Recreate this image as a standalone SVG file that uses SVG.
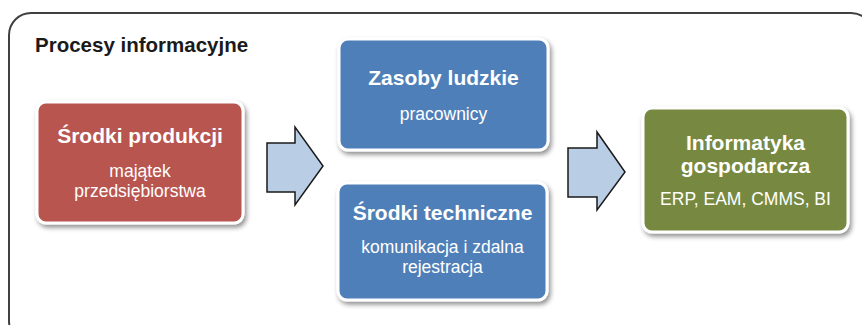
<svg xmlns="http://www.w3.org/2000/svg" width="862" height="325" viewBox="0 0 862 325">
<defs>
<filter id="sh" x="-10%" y="-10%" width="125%" height="130%">
<feGaussianBlur in="SourceAlpha" stdDeviation="2.5"/>
<feOffset dx="2" dy="3" result="b"/>
<feComponentTransfer><feFuncA type="linear" slope="0.45"/></feComponentTransfer>
<feMerge><feMergeNode/><feMergeNode in="SourceGraphic"/></feMerge>
</filter>
</defs>
<style>
.frame{fill:#fff;stroke:#404040;stroke-width:2}
.box{stroke:#fff;stroke-width:3;filter:url(#sh)}
.red{fill:#B85450}
.blue{fill:#4F7FB8}
.green{fill:#77893F}
.arrow{fill:#B9CDE5;stroke:#1a1a1a;stroke-width:1.5;stroke-linejoin:miter}
.t{font-family:"Liberation Sans",Arial,sans-serif;fill:#fff;text-anchor:middle}
.h{font-weight:bold;font-size:21px}
.s{font-size:17.5px}
.title{font-family:"Liberation Sans",Arial,sans-serif;font-weight:bold;font-size:20.5px;fill:#1a1a1a}
</style>
<rect width="862" height="325" fill="#fff"/>
<rect class="frame" x="9" y="13" width="864" height="330" rx="22" ry="22"/>
<text class="title" x="35" y="52">Procesy informacyjne</text>
<g id="connectors">
<path class="arrow" d="M267,143 H295 V127 L323,166 L295,205 V192 H267 Z"/>
<path class="arrow" d="M568,148 H597 V132 L625,172 L597,210 V197 H568 Z"/>
</g>
<g id="srodki-produkcji">
<rect class="box red" x="37" y="102" width="206" height="121" rx="9"/>
<text class="t h" x="140" y="143">Środki produkcji</text>
<text class="t s" x="140" y="177">majątek</text>
<text class="t s" x="140" y="197">przedsiębiorstwa</text>
</g>
<g id="zasoby-ludzkie">
<rect class="box blue" x="339" y="39" width="209" height="111" rx="9"/>
<text class="t h" x="443.5" y="85">Zasoby ludzkie</text>
<text class="t s" x="443.5" y="120">pracownicy</text>
</g>
<g id="srodki-techniczne">
<rect class="box blue" x="338" y="183" width="209" height="117" rx="9"/>
<text class="t h" x="442.5" y="220">Środki techniczne</text>
<text class="t s" x="442.5" y="253">komunikacja i zdalna</text>
<text class="t s" x="442.5" y="273">rejestracja</text>
</g>
<g id="informatyka">
<rect class="box green" x="643" y="108" width="205" height="124" rx="9"/>
<text class="t h" x="745.5" y="150">Informatyka</text>
<text class="t h" x="745.5" y="173">gospodarcza</text>
<text class="t s" x="745.5" y="205">ERP, EAM, CMMS, BI</text>
</g>
</svg>
